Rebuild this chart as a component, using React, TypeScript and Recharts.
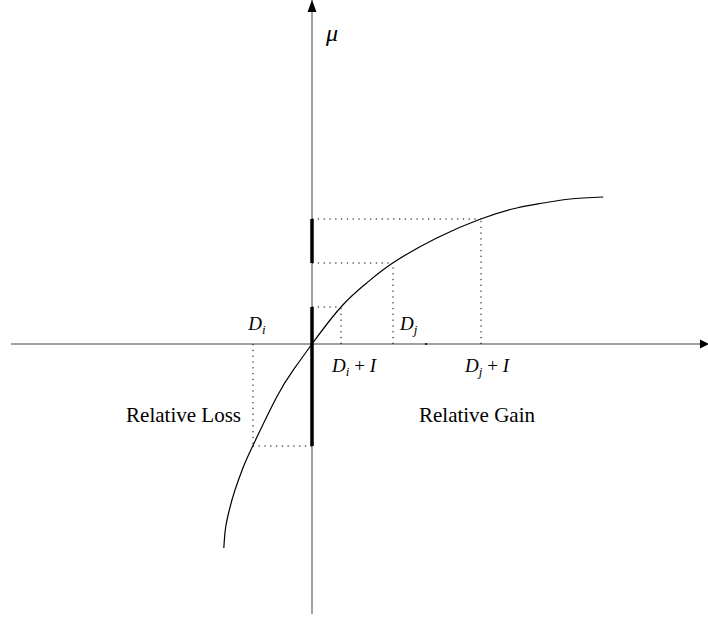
import React from 'react';
import { LineChart, Line, XAxis, YAxis, ReferenceLine, ReferenceDot } from 'recharts';

// curve readings (x, mu) in chart units, 1 unit ~ 10px
const curveX = [-8.82, -8.75, -8.63, -8.27, -7.7, -6.87, -5.93, -3.53, -1.87, 0, 2.9, 5.47, 8.07, 12.47, 16.87, 20.47, 23.13, 25.8, 29.13];
const curveMu = [-20.4, -19.4, -18.3, -16.6, -14.6, -12.3, -10.2, -5.3, -2.6, 0, 3.7, 6.1, 8.1, 10.6, 12.5, 13.6, 14.1, 14.5, 14.7];

const Di = -5.9;
const Dj = 8.1;
const I = 8.8;
const muDi = -10.2;
const muDiI = 3.7;
const muDj = 8.1;
const muDjI = 12.5;

const axisMark = 11.4;
const xDomain: [number, number] = [-30.1, 39.4];
const yDomain: [number, number] = [-27, 34.4];

const curveData = curveX.map((x, i) => ({ x, mu: curveMu[i] }));

const projections = [
  { x: Di, mu: muDi },
  { x: Di + I, mu: muDiI },
  { x: Dj, mu: muDj },
  { x: Dj + I, mu: muDjI },
];

const thickSpans = [
  [muDi, muDiI],
  [muDj, muDjI],
];

const SERIF = '"Liberation Serif", "DejaVu Serif", serif';
const AXIS = '#808080';

function MathLabel({ x, y, base, sub, tail, anchor = 'middle' }: any) {
  return (
    <text x={x} y={y} textAnchor={anchor} fontFamily={SERIF} fontSize={19} fill="#000">
      <tspan fontStyle="italic">{base}</tspan>
      {sub && (
        <tspan fontStyle="italic" fontSize={13} dy={4}>
          {sub}
        </tspan>
      )}
      {tail && <tspan dy={sub ? -4 : 0}> + </tspan>}
      {tail && <tspan fontStyle="italic">{tail}</tspan>}
    </text>
  );
}

export default function App() {
  return (
    <div style={{ position: 'absolute', left: 0, top: 0, background: '#fff' }}>
      <LineChart width={708} height={620} data={curveData} margin={{ top: 0, right: 2, bottom: 6, left: 11 }}>
        <XAxis dataKey="x" type="number" domain={xDomain} allowDataOverflow hide />
        <YAxis type="number" domain={yDomain} allowDataOverflow hide />

        <ReferenceLine x={0} stroke={AXIS} strokeWidth={1.5} />
        <ReferenceLine y={0} stroke={AXIS} strokeWidth={1.5} />
        <ReferenceDot
          x={xDomain[1]}
          y={0}
          ifOverflow="visible"
          shape={(p: any) => (
            <polygon points={`${p.cx - 6},${p.cy - 4.5} ${p.cx + 3},${p.cy} ${p.cx - 6},${p.cy + 4.5}`} fill="#000" />
          )}
        />
        <ReferenceDot
          x={0}
          y={yDomain[1]}
          ifOverflow="visible"
          shape={(p: any) => (
            <polygon points={`${p.cx - 4.5},${p.cy + 12} ${p.cx},${p.cy} ${p.cx + 4.5},${p.cy + 12}`} fill="#000" />
          )}
        />
        <ReferenceDot x={axisMark} y={0} r={1} fill="#000" stroke="none" />

        {projections.map((p, i) => (
          <ReferenceLine
            key={'v' + i}
            segment={[{ x: p.x, y: 0 }, { x: p.x, y: p.mu }]}
            stroke="#000"
            strokeWidth={1}
            strokeDasharray="1.3 4.5"
          />
        ))}
        {projections.map((p, i) => (
          <ReferenceLine
            key={'h' + i}
            segment={[{ x: 0, y: p.mu }, { x: p.x, y: p.mu }]}
            stroke="#000"
            strokeWidth={1}
            strokeDasharray="1.3 4.5"
          />
        ))}
        {thickSpans.map((s, i) => (
          <ReferenceLine key={'t' + i} segment={[{ x: 0, y: s[0] }, { x: 0, y: s[1] }]} stroke="#000" strokeWidth={3.5} />
        ))}

        <Line type="natural" dataKey="mu" stroke="#000" strokeWidth={1.2} dot={false} isAnimationActive={false} />

        <ReferenceDot x={Di} y={0} ifOverflow="visible" shape={(p: any) => <MathLabel x={p.cx + 4} y={p.cy - 14} base="D" sub="i" />} />
        <ReferenceDot x={Dj} y={0} ifOverflow="visible" shape={(p: any) => <MathLabel x={p.cx + 7} y={p.cy - 14} base="D" sub="j" anchor="start" />} />
        <ReferenceDot x={Di + I} y={0} ifOverflow="visible" shape={(p: any) => <MathLabel x={p.cx + 13} y={p.cy + 28} base="D" sub="i" tail="I" />} />
        <ReferenceDot x={Dj + I} y={0} ifOverflow="visible" shape={(p: any) => <MathLabel x={p.cx + 6} y={p.cy + 28} base="D" sub="j" tail="I" />} />
        <ReferenceDot
          x={0}
          y={yDomain[1]}
          ifOverflow="visible"
          shape={(p: any) => (
            <text x={p.cx + 20} y={p.cy + 41} textAnchor="middle" fontFamily={SERIF} fontSize={24} fontStyle="italic">
              μ
            </text>
          )}
        />
        <ReferenceDot
          x={Di}
          y={muDi}
          ifOverflow="visible"
          shape={(p: any) => (
            <text x={p.cx - 12} y={p.cy - 24} textAnchor="end" fontFamily={SERIF} fontSize={21}>
              Relative Loss
            </text>
          )}
        />
        <ReferenceDot
          x={Dj + I}
          y={muDi}
          ifOverflow="visible"
          shape={(p: any) => (
            <text x={p.cx - 4} y={p.cy - 24} textAnchor="middle" fontFamily={SERIF} fontSize={21}>
              Relative Gain
            </text>
          )}
        />
      </LineChart>
    </div>
  );
}
